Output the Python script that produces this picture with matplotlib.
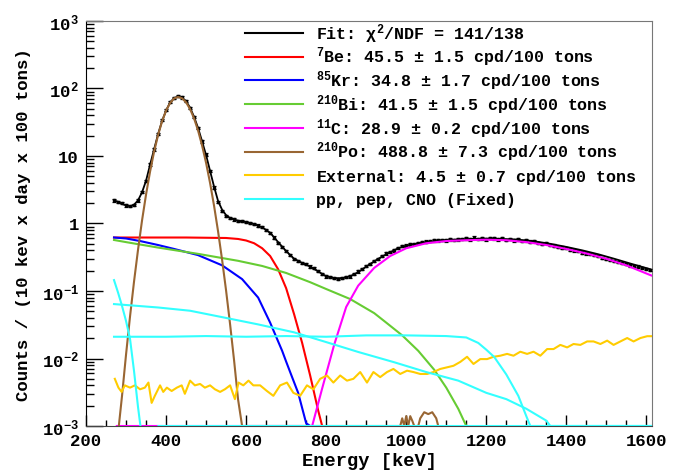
import numpy as np
import matplotlib
matplotlib.use("Agg")
import matplotlib.pyplot as plt
from matplotlib.lines import Line2D
from matplotlib.ticker import FixedLocator, FixedFormatter, MultipleLocator

# ---------------- data ----------------
data_E = np.arange(270, 1620, 10)
data_vals = [2.2, 2.1, 2.0, 1.85, 1.8, 1.9, 2.2, 2.9, 4.3, 7.5,
             12.5, 21, 34, 48, 63, 73, 77, 74, 66, 52,
             38, 26, 16.5, 10.5, 6.0, 3.4, 2.1, 1.55, 1.3, 1.2,
             1.15, 1.1, 1.08, 1.05, 1.02, 0.98, 0.93, 0.88, 0.80, 0.72,
             0.62, 0.52, 0.45, 0.39, 0.34, 0.30, 0.28, 0.26, 0.25, 0.23,
             0.22, 0.20, 0.18, 0.165, 0.16, 0.155, 0.152, 0.155, 0.16, 0.165,
             0.18, 0.195, 0.21, 0.235, 0.25, 0.28, 0.30, 0.33, 0.36, 0.38,
             0.40, 0.43, 0.46, 0.47, 0.49, 0.50, 0.51, 0.53, 0.54, 0.55,
             0.56, 0.56, 0.57, 0.56, 0.58, 0.57, 0.58, 0.59, 0.60, 0.58,
             0.62, 0.59, 0.60, 0.58, 0.61, 0.60, 0.58, 0.61, 0.57, 0.59,
             0.56, 0.58, 0.55, 0.56, 0.54, 0.55, 0.52, 0.50, 0.51, 0.48,
             0.47, 0.45, 0.44, 0.43, 0.41, 0.40, 0.39, 0.37, 0.36, 0.35,
             0.34, 0.33, 0.31, 0.30, 0.29, 0.28, 0.27, 0.26, 0.25, 0.24,
             0.235, 0.23, 0.22, 0.21, 0.205]
rel_err = 0.04

fit_E = [270, 280, 290, 300, 310, 320, 330, 340, 350, 360, 370, 380, 390, 400,
         410, 420, 430, 440, 450, 460, 470, 480, 490, 500, 510, 520, 530, 540,
         550, 560, 580, 600, 620, 640, 660, 680, 700, 720, 740, 760, 780, 800,
         820, 840, 860, 880, 900, 920, 940, 960, 980, 1000, 1040, 1080, 1120,
         1160, 1200, 1240, 1280, 1320, 1360, 1400, 1440, 1480, 1520, 1560, 1610]
fit_vals = [2.2, 2.1, 1.95, 1.85, 1.8, 1.9, 2.2, 2.9, 4.3, 7.4, 12.5, 21, 33, 47,
            62, 72, 76, 73, 65, 52, 38, 26, 16.5, 10.3, 6.0, 3.5, 2.15, 1.6,
            1.33, 1.2, 1.1, 1.05, 0.98, 0.88, 0.73, 0.53, 0.39, 0.30, 0.26, 0.23, 0.195, 0.165,
            0.155, 0.155, 0.165, 0.19, 0.23, 0.275, 0.325, 0.375, 0.43, 0.47, 0.52, 0.555, 0.575,
            0.59, 0.595, 0.59, 0.575, 0.545, 0.50, 0.45, 0.40, 0.35, 0.30, 0.255, 0.21]

be7_E = [270, 300, 350, 400, 450, 500, 550, 580, 600, 620, 640, 660, 680, 700,
         720, 740, 760, 780, 790]
be7_vals = [0.62, 0.62, 0.62, 0.62, 0.62, 0.615, 0.61, 0.59, 0.56, 0.51, 0.43,
            0.33, 0.21, 0.11, 0.045, 0.017, 0.0056, 0.0017, 0.0008]

kr85_E = [270, 300, 335, 380, 420, 480, 540, 590, 630, 660, 690, 700, 710, 730, 750, 760]
kr85_vals = [0.62, 0.60, 0.55, 0.48, 0.42, 0.34, 0.24, 0.15, 0.08, 0.034, 0.013,
             0.009, 0.0063, 0.0031, 0.0011, 0.0006]

bi210_E = [270, 300, 380, 480, 580, 640, 700, 760, 800, 860, 920, 950, 990, 1030,
           1070, 1100, 1130, 1150]
bi210_vals = [0.57, 0.53, 0.44, 0.355, 0.28, 0.235, 0.185, 0.135, 0.107, 0.076,
              0.047, 0.034, 0.022, 0.013, 0.0068, 0.0037, 0.0018, 0.0009]

c11_E = [277, 381, 765, 790, 820, 850, 880, 920, 960, 1000, 1050, 1100, 1150,
         1200, 1250, 1300, 1350, 1400, 1450, 1500, 1550, 1612]
c11_vals = [0.0005, 0.0005, 0.001, 0.0036, 0.016, 0.058, 0.12, 0.22, 0.33, 0.43,
            0.51, 0.55, 0.565, 0.575, 0.565, 0.53, 0.48, 0.42, 0.36, 0.30, 0.24, 0.17]

po210_E = [282, 290, 300, 310, 320, 330, 340, 350, 360, 370, 380, 390, 400, 410,
           420, 430, 440, 450, 460, 470, 480, 490, 500, 510, 520, 530, 540, 550,
           560, 570, 580, 590, 985, 990, 995, 1000, 1005, 1010, 1015, 1020, 1030,
           1035, 1045, 1055, 1065, 1075, 1080]
po210_vals = [0.001, 0.0028, 0.0114, 0.042, 0.138, 0.41, 1.11, 2.69, 5.85, 11.5,
              20.4, 32.6, 47, 60.9, 71.2, 75, 71.6, 62.4, 49.6, 36, 23.8, 14.3,
              7.9, 3.97, 1.82, 0.76, 0.29, 0.101, 0.032, 0.0093, 0.00245, 0.0008,
              0.0008, 0.0013, 0.0009, 0.0014, 0.0010, 0.0014, 0.0012, 0.0008, 0.0008,
              0.0013, 0.0016, 0.0015, 0.0016, 0.0013, 0.0008]

ext_E = [272, 281, 289, 297, 310, 322, 335, 347, 356, 364, 372, 385, 393, 402,
         414, 427, 439, 447, 460, 472, 485, 497, 510, 522, 535, 547, 560, 572,
         581, 593, 606, 618,
         635, 652, 668, 685, 702, 718, 735, 752, 768, 785, 802, 818, 835, 852,
         868, 885, 902, 918, 935, 952, 968, 985, 1002, 1018, 1035, 1052, 1068,
         1085, 1102, 1118, 1135, 1152, 1168, 1185, 1202, 1218, 1235, 1252, 1268,
         1285, 1302, 1318, 1335, 1352, 1368, 1385, 1402, 1418, 1435, 1452, 1468,
         1485, 1502, 1518, 1535, 1552, 1568, 1585, 1602, 1612]
ext_vals = [0.0050, 0.0037, 0.0032, 0.0040, 0.0037, 0.0040, 0.0035, 0.0037, 0.0044,
            0.0022, 0.0028, 0.0040, 0.0032, 0.0037, 0.0033, 0.0037, 0.0040, 0.0030,
            0.0047, 0.0040, 0.0042, 0.0037, 0.0040, 0.0035, 0.0032, 0.0035, 0.0040,
            0.0025, 0.0044, 0.0040, 0.0047, 0.0040,
            0.0040, 0.0033, 0.0028, 0.0040, 0.0044, 0.0031, 0.0028, 0.0040, 0.0035, 0.0050,
            0.0056, 0.0044, 0.0056, 0.0047, 0.0050, 0.0063, 0.0044, 0.0063, 0.0053, 0.0063,
            0.0070, 0.0059, 0.0066, 0.0063, 0.0059, 0.0059, 0.0063, 0.0070, 0.0074, 0.0078,
            0.0089, 0.0106, 0.0083, 0.0098, 0.0098, 0.0106, 0.0110, 0.0117, 0.0110, 0.0126,
            0.0117, 0.0126, 0.0110, 0.0138, 0.0138, 0.0159, 0.0146, 0.0164, 0.0159, 0.0179,
            0.0179, 0.0164, 0.0184, 0.0159, 0.0179, 0.0201, 0.0179, 0.0201, 0.0214, 0.0214]

pp_E = [270, 280, 290, 300, 310, 320, 330, 336, 340, 381, 1612]
pp_vals = [0.145, 0.095, 0.06, 0.036, 0.0195, 0.0065, 0.0019, 0.001, np.nan, 0.0005, 0.0005]

pep_E = [270, 380, 460, 540, 630, 720, 800, 880, 970, 1050, 1130, 1200, 1250,
         1300, 1350, 1360, 1612]
pep_vals = [0.064, 0.057, 0.051, 0.041, 0.032, 0.0244, 0.0175, 0.0125, 0.0088,
            0.0063, 0.0047, 0.0031, 0.0025, 0.0018, 0.0012, 0.001, 0.0005]

cno_E = [270, 400, 500, 600, 700, 800, 900, 1000, 1100, 1150, 1180, 1200, 1220,
         1250, 1280, 1300, 1310, 1612]
cno_vals = [0.021, 0.021, 0.0215, 0.021, 0.0215, 0.021, 0.022, 0.022, 0.0215,
            0.0205, 0.017, 0.0135, 0.0105, 0.0058, 0.0028, 0.0014, 0.001, 0.0005]

legend_labels = [
    r"Fit: $\chi^{2}$/NDF = 141/138",
    r"$^{7}$Be: 45.5 $\pm$ 1.5 cpd/100 tons",
    r"$^{85}$Kr: 34.8 $\pm$ 1.7 cpd/100 tons",
    r"$^{210}$Bi: 41.5 $\pm$ 1.5 cpd/100 tons",
    r"$^{11}$C: 28.9 $\pm$ 0.2 cpd/100 tons",
    r"$^{210}$Po: 488.8 $\pm$ 7.3 cpd/100 tons",
    r"External: 4.5 $\pm$ 0.7 cpd/100 tons",
    "pp, pep, CNO (Fixed)",
]
y_ticks = [1e-3, 1e-2, 1e-1, 1, 10, 1e2, 1e3]
y_ticklabels = [r"$10^{-3}$", r"$10^{-2}$", r"$10^{-1}$", "1", "10", r"$10^{2}$", r"$10^{3}$"]
x_label = "Energy [keV]"
y_label = "Counts / (10 kev x day x 100 tons)"

# ---------------- style ----------------
FONT = "Liberation Mono"
plt.rcParams["font.family"] = [FONT, "DejaVu Sans"]
plt.rcParams["font.weight"] = "bold"
plt.rcParams["mathtext.fontset"] = "custom"
plt.rcParams["mathtext.rm"] = FONT + ":bold"
plt.rcParams["mathtext.it"] = FONT + ":bold"
plt.rcParams["mathtext.bf"] = FONT + ":bold"
plt.rcParams["mathtext.default"] = "rm"

W, H = 675, 477
YMIN, YMAX = 1e-3, 1e3
c_red, c_blue, c_green = "#ff0000", "#0000ff", "#66cc33"
c_mag, c_brown, c_orange, c_cyan = "#ff00ff", "#996633", "#ffcc00", "#33ffff"
legend_colors = ["black", c_red, c_blue, c_green, c_mag, c_brown, c_orange, c_cyan]

fig = plt.figure(figsize=(W / 100, H / 100), dpi=100)
ax = fig.add_axes([86 / W, 1 - 427 / H, 566 / W, 405 / H])
ax.set_yscale("log")
ax.set_xlim(200, 1614)
ax.set_ylim(YMIN, YMAX)


def clip(v):
    return np.clip(np.asarray(v, dtype=float), YMIN, None)


dv = np.asarray(data_vals)
ax.errorbar(data_E, dv, yerr=rel_err * dv, fmt="s", color="black", ms=1.9,
            elinewidth=0.9, capsize=1.2, capthick=0.9, zorder=3)
ax.plot(fit_E, fit_vals, color="black", lw=1.3, zorder=3)

lw = 1.5
ax.plot(be7_E, clip(be7_vals), color=c_red, lw=lw, zorder=4)
ax.plot(kr85_E, clip(kr85_vals), color=c_blue, lw=lw, zorder=4)
ax.plot(bi210_E, clip(bi210_vals), color=c_green, lw=lw, zorder=4)
ax.plot(c11_E, clip(c11_vals), color=c_mag, lw=lw, zorder=4)
ax.plot(po210_E, clip(po210_vals), color=c_brown, lw=lw, zorder=4)
ax.plot(ext_E, clip(ext_vals), color=c_orange, lw=lw, zorder=4)
ax.plot(pp_E, clip(pp_vals), color=c_cyan, lw=lw, zorder=5)
ax.plot(pep_E, clip(pep_vals), color=c_cyan, lw=lw, zorder=5)
ax.plot(cno_E, clip(cno_vals), color=c_cyan, lw=lw, zorder=5)

# axes / ticks
for s in ["top", "right"]:
    ax.spines[s].set_color("#777777")
ax.spines["left"].set_color("black")
ax.spines["bottom"].set_color("#444444")
ax.xaxis.set_major_locator(MultipleLocator(200))
ax.xaxis.set_minor_locator(MultipleLocator(50))
ax.yaxis.set_major_locator(FixedLocator(y_ticks))
ax.yaxis.set_major_formatter(FixedFormatter(y_ticklabels))
ax.tick_params(axis="both", which="both", direction="in", top=False, right=False)
ax.tick_params(axis="x", which="major", length=8, width=1, pad=5, labelsize=12.5)
ax.tick_params(axis="x", which="minor", length=4.5, width=1)
ax.tick_params(axis="y", which="major", length=12, width=1, pad=5, labelsize=12.5)
ax.tick_params(axis="y", which="minor", length=6, width=1)
for t in ax.get_xticklabels() + ax.get_yticklabels():
    t.set_fontweight("bold")

ax.set_xlabel(x_label, fontsize=13.5, fontweight="bold", labelpad=3)
ax.set_ylabel(y_label, fontsize=12.5, fontweight="bold", labelpad=8)

# manual legend (ROOT-like, no frame)
row0, drow = 34, 23.7
for i, (lab, col) in enumerate(zip(legend_labels, legend_colors)):
    yc = row0 + i * drow
    fig.add_artist(Line2D([245 / W, 303 / W], [1 - yc / H, 1 - yc / H],
                          color=col, lw=1.5, transform=fig.transFigure))
    fig.text(316 / W, 1 - (yc + 5.5) / H, lab, fontsize=12, fontweight="bold",
             ha="left", va="baseline")

fig.savefig("out.png", dpi=100)
